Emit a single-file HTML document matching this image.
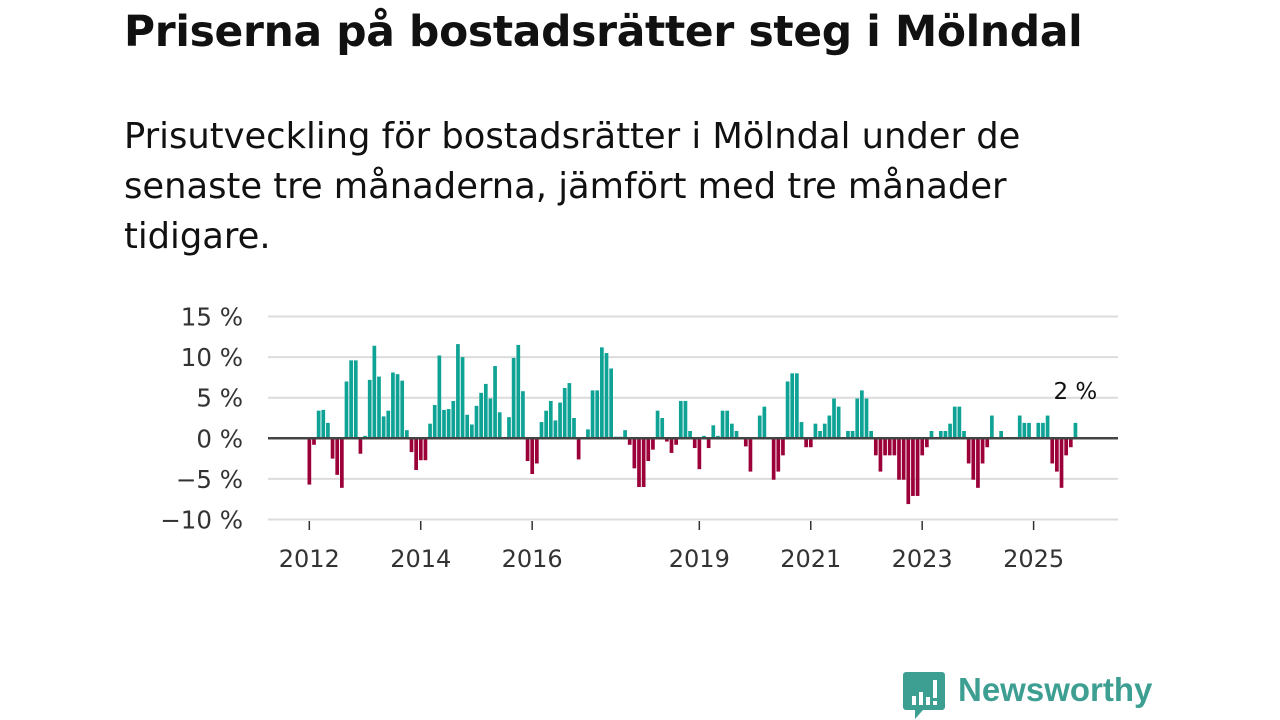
<!DOCTYPE html>
<html><head><meta charset="utf-8">
<style>
html,body{margin:0;padding:0;background:#fff;width:1280px;height:720px;overflow:hidden;font-family:"DejaVu Sans","Liberation Sans",sans-serif;color:#111;}
#title{position:absolute;left:124px;top:7px;font-size:42.4px;font-weight:bold;white-space:nowrap;letter-spacing:-0.3px;}
#subtitle{position:absolute;left:124px;top:112px;font-size:35.3px;line-height:50px;width:950px;}
svg{position:absolute;left:0;top:0;}
#logo{position:absolute;left:903px;top:672px;}
#logo-text{position:absolute;left:958px;top:671px;font-family:"Liberation Sans",sans-serif;font-size:33px;font-weight:bold;color:#3d9e92;}
</style></head><body>
<div id="title">Priserna på bostadsrätter steg i Mölndal</div>
<div id="subtitle">Prisutveckling för bostadsrätter i Mölndal under de senaste tre månaderna, jämfört med tre månader tidigare.</div>
<svg id="chart" width="1280" height="720"></svg>
<svg id="logo" width="42" height="48" viewBox="0 0 42 48">
<path d="M3 0h36a3 3 0 0 1 3 3v32a3 3 0 0 1-3 3H20l-8 9v-9H3a3 3 0 0 1-3-3V3a3 3 0 0 1 3-3z" fill="#3d9e92"/>
<rect x="9" y="24" width="4" height="9" fill="#fff"/><rect x="16" y="20" width="4" height="13" fill="#fff"/><rect x="23" y="25" width="4" height="8" fill="#fff"/><rect x="30" y="8" width="4" height="18" fill="#fff"/><rect x="30" y="29" width="4" height="4" fill="#fff"/>
</svg>
<div id="logo-text">Newsworthy</div>
<script>
const values = [-5.7,-0.8,3.4,3.5,1.9,-2.5,-4.5,-6.1,7.0,9.6,9.6,-1.9,0.3,7.2,11.4,7.6,2.7,3.4,8.1,7.9,7.1,1.0,-1.7,-3.9,-2.7,-2.7,1.8,4.1,10.2,3.5,3.6,4.6,11.6,10.0,2.9,1.7,4.0,5.6,6.7,4.9,8.9,3.2,0,2.6,9.9,11.5,5.8,-2.8,-4.4,-3.1,
2.0,3.4,4.6,2.2,4.4,6.2,6.8,2.5,-2.6,0,1.1,5.9,5.9,11.2,10.5,8.6,0.2,0.2,1.0,-0.8,-3.7,-6.0,-6.0,-2.8,-1.4,3.4,2.5,-0.4,-1.8,-0.8,4.6,4.6,0.9,-1.2,-3.8,0.3,-1.2,1.6,0.3,3.4,3.4,1.8,0.9,0,-1.0,-4.1,0,2.8,3.9,0,
-5.1,-4.1,-2.1,7.0,8.0,8.0,2.0,-1.1,-1.1,1.8,0.9,1.8,2.8,4.9,3.9,0,0.9,0.9,4.9,5.9,4.9,0.9,-2.1,-4.1,-2.1,-2.1,-2.1,-5.1,-5.1,-8.1,-7.1,-7.1,-2.1,-1.1,0.9,0,0.9,0.9,1.8,3.9,3.9,0.9,-3.1,-5.1,-6.1,-3.1,-1.1,2.8,0,0.9,0,0,0,
2.8,1.9,1.9,0,1.9,1.9,2.8,-3.1,-4.1,-6.1,-2.1,-1.1,1.9];
const yTicks = [15,10,5,0,-5,-10];
const yearLabels = ["2012","2014","2016","2019","2021","2023","2025"];
const startYear = 2012;
const lastLabel = "2 %";

const svg = document.getElementById('chart');
const NS = 'http://www.w3.org/2000/svg';
const X0 = 309.3, PITCH = 4.643, Y0 = 438.3, PPU = 8.12;
const xScale = i => X0 + i*PITCH;
const yScale = v => Y0 - v*PPU;
function mk(tag, attrs){const e=document.createElementNS(NS,tag);for(const k in attrs)e.setAttribute(k,attrs[k]);svg.appendChild(e);return e;}

yTicks.forEach(t=>{
  if(t!==0){
    const g=mk('line',{x1:268,x2:1118,y1:yScale(t),y2:yScale(t),stroke:'#dcdcdc','stroke-width':2});
    
    
  }
  const lb=mk('text',{x:243,y:yScale(t)+9,'text-anchor':'end','font-size':24.5,fill:'#333','font-family':'DejaVu Sans, sans-serif'});
  lb.textContent=(t<0?'\u2212'+Math.abs(t):t)+' %';
  
  
});

values.forEach((v,i)=>{
  if(v===0)return;
  const y=v>0?yScale(v):Y0;
  const r=mk('rect',{x:xScale(i)-1.8,y:y,width:3.7,height:Math.abs(v)*PPU,fill:v>0?'#0fa396':'#9b0039'});
  
  
});
const z=mk('line',{x1:268,x2:1118,y1:Y0,y2:Y0,stroke:'#444','stroke-width':2.5});



yearLabels.forEach(yl=>{
  const x=xScale((+yl-startYear)*12);
  const tk=mk('line',{x1:x,x2:x,y1:521,y2:530,stroke:'#333','stroke-width':1.5});
  
  
  const t=mk('text',{x:x,y:567,'text-anchor':'middle','font-size':24,fill:'#333','font-family':'DejaVu Sans, sans-serif'});
  t.textContent=yl;
  
  
});

const li=values.length-1;
const ll=mk('text',{x:xScale(li),y:yScale(values[li])-24,'text-anchor':'middle','font-size':23,fill:'#111','font-family':'DejaVu Sans, sans-serif'});
ll.textContent=lastLabel;


</script>
</body></html>
